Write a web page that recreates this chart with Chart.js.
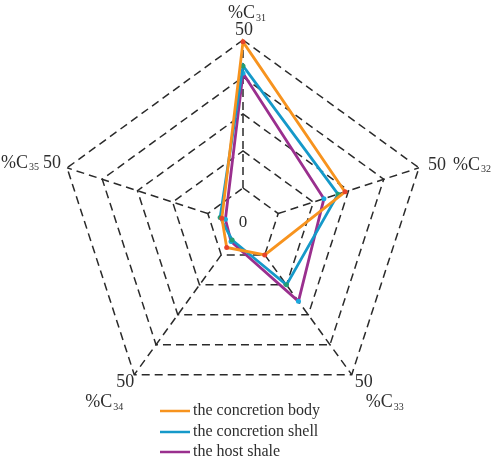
<!DOCTYPE html>
<html>
<head>
<meta charset="utf-8">
<script src="https://cdn.jsdelivr.net/npm/chart.js@4"></script>
<style>
  html, body { margin: 0; padding: 0; background: #fff; }
  #wrap { width: 491px; height: 459px; position: relative; }
</style>
</head>
<body>
<div id="wrap"><canvas id="radar"></canvas></div>
<script>
// axis categories (%C + subscript)
const categories = ['31', '32', '33', '34', '35'];
const maxTick = 50;
const tickLabels = ['50', '50', '50', '50', '50'];
const centerLabel = '0';

// series values
const seriesNames = ['the concretion body', 'the concretion shell', 'the host shale'];
const bodyValues = [49.5, 29, 10, 7.5, 6];
const shellValues = [43, 27, 20, 5, 6.5];
const shaleValues = [41, 23, 25.5, 5.5, 5];

const SERIF = '"Liberation Serif", "DejaVu Serif", serif';
const TEXT = '#2e2e2e';
const GRID = '#2a2a2a';
const lineColors = ['#f7931e', '#1599c9', '#9a2f8e'];
const markColors = ['#e8432a', '#239e77', '#1aa9de'];

// ----------------------------
// spokes start at the first ring, not the centre
// ----------------------------
const spokes = {
  id: 'spokes',
  beforeDatasetsDraw(chart) {
    const r = chart.scales.r, ctx = chart.ctx;
    ctx.save();
    ctx.strokeStyle = GRID;
    ctx.lineWidth = 1.5;
    ctx.setLineDash([8, 5]);
    categories.forEach((c, i) => {
      const a = r.getPointPositionForValue(i, 10);
      const b = r.getPointPositionForValue(i, maxTick);
      ctx.beginPath();
      ctx.moveTo(a.x, a.y);
      ctx.lineTo(b.x, b.y);
      ctx.stroke();
    });
    ctx.restore();
  }
};

// draw "%C" + subscript
function subLabel(ctx, sub, x, y, align) {
  ctx.font = '18px ' + SERIF;
  const w1 = ctx.measureText('%C').width;
  ctx.font = '10px ' + SERIF;
  const w2 = ctx.measureText(sub).width;
  const w = w1 + w2 + 1;
  let x0 = x;
  if (align === 'center') x0 = x - w / 2;
  if (align === 'right') x0 = x - w;
  ctx.textAlign = 'left';
  ctx.textBaseline = 'middle';
  ctx.font = '18px ' + SERIF;
  ctx.fillText('%C', x0, y);
  ctx.font = '10px ' + SERIF;
  ctx.fillText(sub, x0 + w1 + 1, y + 5);
}

// offsets of texts from each outer vertex
const tickOffsets = [[1, -10, 'center'], [9, -3, 'left'], [12, 8, 'center'], [-9, 8, 'center'], [-6, -5, 'right']];
const nameOffsets = [[4, -27, 'center'], [34, -3, 'left'], [33, 28, 'center'], [-30, 28, 'center'], [-28, -5, 'right']];

const labels = {
  id: 'labels',
  afterDraw(chart) {
    const r = chart.scales.r, ctx = chart.ctx;
    ctx.save();
    ctx.fillStyle = TEXT;
    categories.forEach((c, i) => {
      const p = r.getPointPositionForValue(i, maxTick);
      const t = tickOffsets[i], n = nameOffsets[i];
      ctx.font = '18px ' + SERIF;
      ctx.textAlign = t[2];
      ctx.textBaseline = 'middle';
      ctx.fillText(tickLabels[i], p.x + t[0], p.y + t[1]);
      subLabel(ctx, c, p.x + n[0], p.y + n[1], n[2]);
    });
    ctx.font = '17px ' + SERIF;
    ctx.textAlign = 'center';
    ctx.textBaseline = 'middle';
    ctx.fillText(centerLabel, r.xCenter, r.yCenter - 2);

    // legend
    ctx.font = '16px ' + SERIF;
    ctx.textAlign = 'left';
    const ys = [411, 432, 452];
    seriesNames.forEach((s, i) => {
      ctx.strokeStyle = lineColors[i];
      ctx.lineWidth = 2.5;
      ctx.setLineDash([]);
      ctx.beginPath();
      ctx.moveTo(160, ys[i]);
      ctx.lineTo(190, ys[i]);
      ctx.stroke();
      ctx.fillStyle = TEXT;
      ctx.fillText(s, 193, ys[i]);
    });
    ctx.restore();
  }
};

function ds(label, data, i) {
  return {
    label: label,
    data: data,
    fill: false,
    borderColor: lineColors[i],
    borderWidth: 2.8,
    pointRadius: 2.5,
    pointBorderWidth: 0,
    pointBackgroundColor: markColors[i],
    tension: 0
  };
}

new Chart(document.getElementById('radar'), {
  type: 'radar',
  data: {
    labels: categories,
    datasets: [
      ds(seriesNames[0], bodyValues, 0),
      ds(seriesNames[1], shellValues, 1),
      ds(seriesNames[2], shaleValues, 2)
    ]
  },
  options: {
    responsive: true,
    maintainAspectRatio: false,
    animation: false,
    layout: { padding: { left: 58, top: 40, right: 63, bottom: 49 } },
    plugins: { legend: { display: false }, tooltip: { enabled: false } },
    scales: {
      r: {
        min: 0,
        max: maxTick,
        ticks: { display: false, stepSize: 10 },
        pointLabels: { display: false },
        angleLines: { display: false },
        grid: { color: GRID, lineWidth: 1.5 },
        border: { dash: [8, 5] }
      }
    }
  },
  plugins: [spokes, labels]
});
</script>
</body>
</html>
